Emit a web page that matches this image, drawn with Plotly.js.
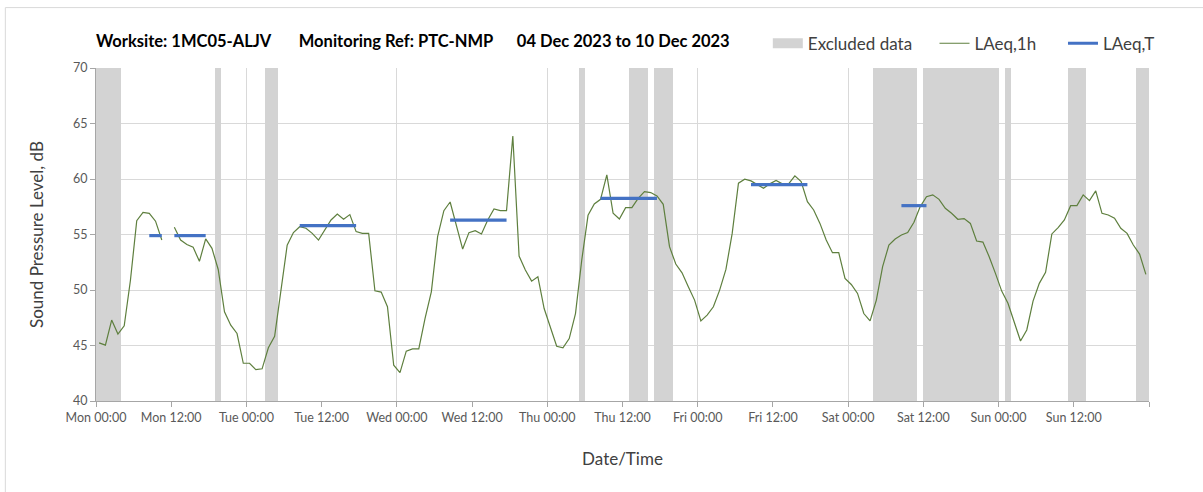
<!DOCTYPE html>
<html>
<head>
<meta charset="utf-8">
<script src="https://cdn.plot.ly/plotly-3.0.1.min.js"></script>
<style>
  html, body { margin: 0; padding: 0; background: #ffffff; }
  #chart { width: 1203px; height: 492px; }
</style>
</head>
<body>
<div id="chart"></div>
<script>
// ---- Data ----
// Hourly LAeq,1h values, one per hour starting Mon 04 Dec 2023 00:00 (plotted at the half hour)
var weekStart = '2023-12-04 00:00';
var laeq1h = [
  45.24, 45.03, 47.29, 46.03, 46.78, 50.9, 56.25, 57.0, 56.9, 56.2, 54.5, null,
  55.65, 54.5, 54.1, 53.85, 52.58, 54.6, 53.75, 51.85, 48.03, 46.83, 46.08, 43.4,
  43.4, 42.83, 42.9, 44.8, 45.82, 49.97, 54.03, 55.18, 55.7, 55.56, 55.1, 54.5,
  55.41, 56.31, 56.85, 56.37, 56.79, 55.26, 55.11, 55.11, 49.93, 49.81, 48.49, 43.22,
  42.56, 44.49, 44.7, 44.7, 47.44, 49.84, 54.8, 57.15, 57.93, 55.71, 53.69, 55.17,
  55.35, 55.05, 56.31, 57.3, 57.15, 57.15, 63.88, 53.06, 51.8, 50.8, 51.2, 48.33,
  46.68, 44.93, 44.8, 45.62, 47.88, 52.7, 56.73, 57.75, 58.17, 60.37, 56.91, 56.4,
  57.42, 57.42, 58.26, 58.86, 58.78, 58.47, 57.72, 53.9, 52.34, 51.55, 50.29, 49.09,
  47.22, 47.74, 48.49, 49.99, 51.85, 55.1, 59.62, 59.98, 59.83, 59.47, 59.17, 59.56,
  59.86, 59.56, 59.56, 60.28, 59.77, 57.96, 57.21, 56.0, 54.5, 53.36, 53.36, 51.04,
  50.5, 49.69, 47.88, 47.22, 49.09, 52.1, 54.05, 54.59, 54.95, 55.17, 56.1, 57.51,
  58.41, 58.57, 58.17, 57.36, 56.91, 56.37, 56.43, 56.0, 54.41, 54.32, 53.0, 51.5,
  49.9, 48.8, 47.1, 45.4, 46.4, 49.0, 50.6, 51.59, 55.05, 55.62, 56.31, 57.6,
  57.6, 58.57, 58.05, 58.93, 56.91, 56.76, 56.46, 55.56, 55.1, 54.05, 53.24, 51.41
];

// LAeq,T assessment periods
var periodStart = ['2023-12-04 08:00', '2023-12-05 08:00', '2023-12-06 08:00', '2023-12-07 08:00', '2023-12-08 08:00', '2023-12-09 08:00'];
var periodEnd   = ['2023-12-04 18:00', '2023-12-05 18:00', '2023-12-06 18:00', '2023-12-07 18:00', '2023-12-08 18:00', '2023-12-09 13:00'];
var periodLAeqT = [54.9, 55.8, 56.3, 58.25, 59.5, 57.6];

// Excluded data periods
var excludedStart = ['2023-12-04 00:00', '2023-12-04 19:00', '2023-12-05 03:00', '2023-12-07 05:00', '2023-12-07 13:00', '2023-12-07 17:00', '2023-12-09 04:00', '2023-12-09 12:00', '2023-12-10 01:00', '2023-12-10 11:00', '2023-12-10 22:00'];
var excludedEnd   = ['2023-12-04 04:00', '2023-12-04 20:00', '2023-12-05 05:00', '2023-12-07 06:00', '2023-12-07 16:00', '2023-12-07 20:00', '2023-12-09 11:00', '2023-12-10 00:00', '2023-12-10 02:00', '2023-12-10 14:00', '2023-12-11 00:00'];

// Tick labels (every 12 h; the final tick at the end of the week is unlabelled)
var tickLabels = ['Mon 00:00', 'Mon 12:00', 'Tue 00:00', 'Tue 12:00', 'Wed 00:00', 'Wed 12:00', 'Thu 00:00', 'Thu 12:00',
                  'Fri 00:00', 'Fri 12:00', 'Sat 00:00', 'Sat 12:00', 'Sun 00:00', 'Sun 12:00', ''];
var yMin = 40, yMax = 70;

// ---- Helpers ----
function parseT(s) { var p = s.split(/[- :]/); return Date.UTC(+p[0], +p[1] - 1, +p[2], +p[3], +p[4]); }
function fmt(ms) {
  var d = new Date(ms);
  function z(n) { return (n < 10 ? '0' : '') + n; }
  return d.getUTCFullYear() + '-' + z(d.getUTCMonth() + 1) + '-' + z(d.getUTCDate()) + ' ' + z(d.getUTCHours()) + ':' + z(d.getUTCMinutes());
}
var HOUR = 3600000;
var t0 = parseT(weekStart);
var tEnd = t0 + laeq1h.length * HOUR;

var hourX = laeq1h.map(function (v, i) { return fmt(t0 + (i + 0.5) * HOUR); });

var laeqT = laeq1h.map(function (v, i) {
  var tm = t0 + (i + 0.5) * HOUR;
  for (var k = 0; k < periodStart.length; k++) {
    if (tm >= parseT(periodStart[k]) && tm < parseT(periodEnd[k]) && v !== null) return periodLAeqT[k];
  }
  return null;
});

var exclX = [], exclW = [], exclY = [], exclBase = [];
for (var k = 0; k < excludedStart.length; k++) {
  var a = parseT(excludedStart[k]), b = parseT(excludedEnd[k]);
  exclX.push(fmt((a + b) / 2));
  exclW.push(b - a);
  exclY.push(yMax - yMin);
  exclBase.push(yMin);
}

var tickVals = tickLabels.map(function (l, i) { return fmt(t0 + i * 12 * HOUR); });

var FONT = 'Lato, "Open Sans", sans-serif';
var NB = '\u00a0';
function pad(n) { return new Array(n + 1).join(NB); }

var traces = [
  {
    type: 'bar', name: 'Excluded data', x: exclX, y: exclY, base: exclBase, width: exclW,
    marker: { color: '#d3d3d3', line: { width: 0 } }, hoverinfo: 'skip', showlegend: false
  },
  { // legend entry for excluded data (wide grey swatch)
    type: 'scatter', mode: 'lines', name: 'Excluded data' + pad(4), x: [null], y: [null],
    line: { color: '#d3d3d3', width: 12 }, hoverinfo: 'skip'
  },
  {
    type: 'scatter', mode: 'lines', name: 'LAeq,1h' + pad(5), x: hourX, y: laeq1h,
    line: { color: '#5e7f3e', width: 1.2 }, connectgaps: false
  },
  {
    type: 'scatter', mode: 'lines', name: 'LAeq,T', x: hourX, y: laeqT,
    line: { color: '#4472c4', width: 3.2 }, connectgaps: false
  }
];

var rangeX = [fmt(t0), fmt(tEnd)];

var layout = {
  width: 1203, height: 492,
  margin: { l: 96, r: 54, t: 68, b: 91, pad: 0 },
  paper_bgcolor: '#ffffff', plot_bgcolor: '#ffffff',
  font: { family: FONT, color: '#595959', size: 12 },
  showlegend: true,
  bargap: 0,
  title: {
    text: '<b>Worksite: 1MC05-ALJV' + pad(7) + 'Monitoring Ref: PTC-NMP' + pad(6) + '04 Dec 2023 to 10 Dec 2023</b>',
    font: { family: FONT, size: 16.5, color: '#000000' },
    xref: 'paper', x: 0, xanchor: 'left',
    yref: 'container', y: 1 - 41 / 492, yanchor: 'middle'
  },
  legend: {
    orientation: 'h', x: 0.638, xanchor: 'left', y: 1.073, yanchor: 'middle',
    font: { family: FONT, size: 17, color: '#404040' },
    bgcolor: 'rgba(0,0,0,0)', traceorder: 'normal'
  },
  xaxis: {
    type: 'date', range: rangeX, tickmode: 'array', tickvals: tickVals, ticktext: tickLabels,
    showgrid: false, ticks: 'outside', ticklen: 5, tickcolor: '#a6a6a6', tickwidth: 1,
    showline: true, linecolor: '#a6a6a6', linewidth: 1, zeroline: false,
    tickfont: { family: FONT, size: 12.5, color: '#595959' },
    title: { text: 'Date/Time', font: { family: FONT, size: 17, color: '#404040' }, standoff: 29 },
    fixedrange: true
  },
  xaxis2: {
    type: 'date', overlaying: 'x', range: rangeX, tick0: fmt(t0), dtick: 24 * HOUR,
    showgrid: true, gridcolor: '#d9d9d9', gridwidth: 1, showticklabels: false, ticks: '',
    showline: false, zeroline: false, side: 'bottom', fixedrange: true
  },
  yaxis: {
    range: [yMin, yMax], dtick: 5, tick0: 40,
    showgrid: true, gridcolor: '#d9d9d9', gridwidth: 1,
    ticks: 'outside', ticklen: 5, tickcolor: '#a6a6a6',
    showline: true, linecolor: '#a6a6a6', zeroline: false,
    tickfont: { family: FONT, size: 12.5, color: '#595959' },
    title: { text: 'Sound Pressure Level, dB', font: { family: FONT, size: 17, color: '#404040' }, standoff: 25 },
    fixedrange: true
  },
  shapes: [
    { type: 'rect', xref: 'paper', yref: 'paper', x0: -0.0861, x1: 1.2, y0: -0.4, y1: 1.1814,
      line: { color: '#d9d9d9', width: 1 }, fillcolor: 'rgba(0,0,0,0)', layer: 'below' }
  ]
};

// Invisible trace that activates the daily gridlines of xaxis2
traces.push({ type: 'scatter', x: rangeX, y: [yMin, yMin], xaxis: 'x2', yaxis: 'y', mode: 'none', showlegend: false, hoverinfo: 'skip' });

Plotly.newPlot('chart', traces, layout, { displayModeBar: false, staticPlot: true });
</script>
</body>
</html>
